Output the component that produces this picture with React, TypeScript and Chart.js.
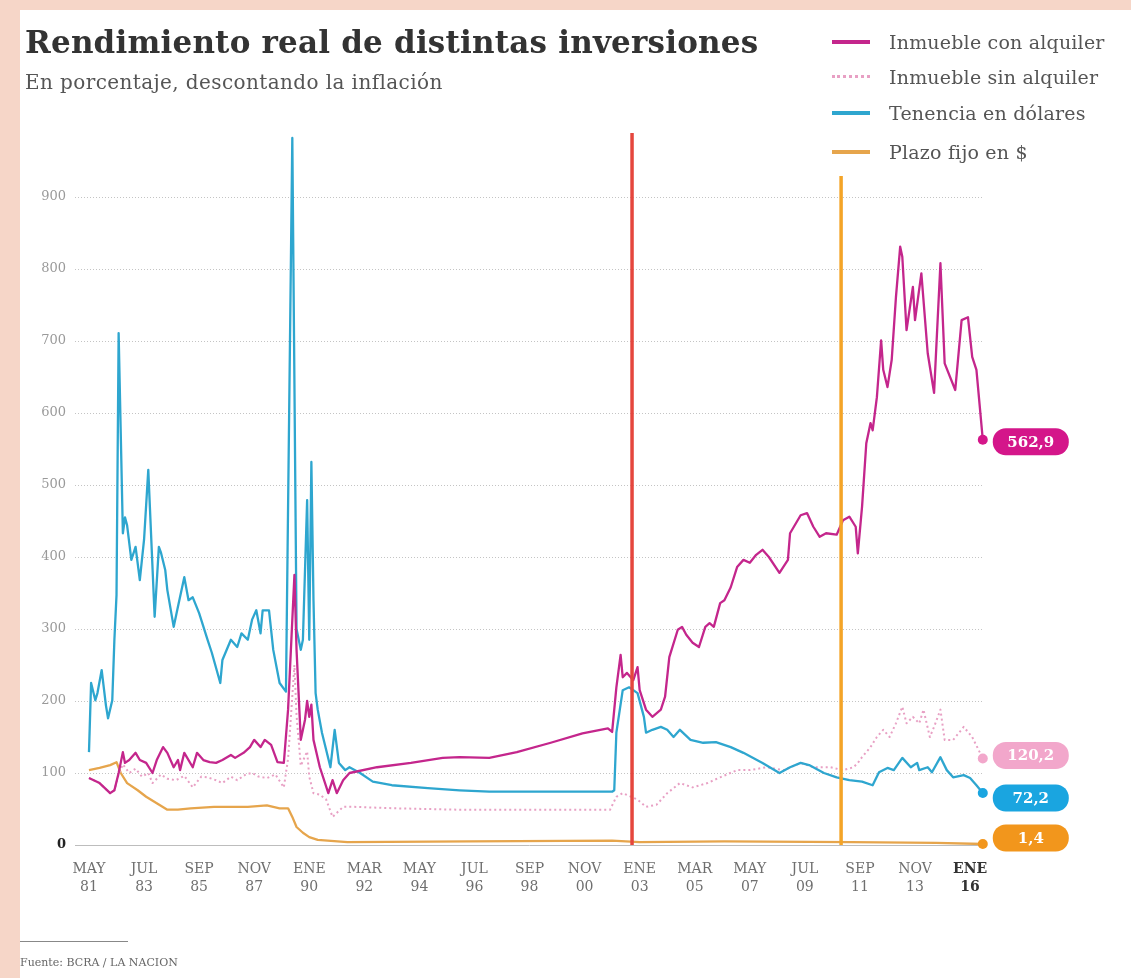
import React, { useEffect, useRef } from 'react';
import { Chart, registerables } from 'chart.js';

Chart.register(...registerables);

// x values are months counted from MAY 1981 (0) ; tick every 26 months
const TICK_MONTHS = [0, 26, 52, 78, 104, 130, 156, 182, 208, 234, 260, 286, 312, 338, 364, 390, 416];
const TICK_MON = ['MAY', 'JUL', 'SEP', 'NOV', 'ENE', 'MAR', 'MAY', 'JUL', 'SEP', 'NOV', 'ENE', 'MAR', 'MAY', 'JUL', 'SEP', 'NOV', 'ENE'];
const TICK_YEAR = ['81', '83', '85', '87', '90', '92', '94', '96', '98', '00', '03', '05', '07', '09', '11', '13', '16'];

const CON_ALQ_MONTHS = [0, 5, 10, 12, 14, 16, 17, 19, 22, 24, 27, 30, 32, 35, 37, 40, 42, 43, 45, 49, 51, 54, 57, 60, 63, 67, 69, 73, 76, 78, 81, 83, 86, 89, 92, 94, 97, 98, 100, 102, 103, 104, 105, 106, 109, 113, 115, 117, 120, 123, 136, 152, 167, 175, 189, 202, 218, 233, 245, 247, 249, 251, 252, 254, 257, 259, 260, 263, 266, 270, 272, 274, 278, 280, 282, 285, 288, 291, 293, 295, 298, 300, 303, 306, 309, 312, 315, 318, 321, 326, 330, 331, 336, 339, 342, 345, 348, 353, 356, 359, 362, 363, 365, 367, 369, 370, 372, 374, 375, 377, 379, 381, 383, 384, 386, 389, 390, 393, 396, 399, 402, 404, 409, 412, 415, 417, 419, 422];
const CON_ALQ_VALUES = [93, 86, 72, 76, 100, 129, 114, 118, 128, 118, 114, 100, 118, 136, 128, 108, 118, 104, 128, 108, 128, 118, 115, 114, 118, 125, 121, 128, 136, 146, 136, 146, 139, 115, 114, 188, 375, 271, 146, 174, 200, 178, 195, 146, 108, 72, 90, 72, 90, 100, 108, 114, 121, 122, 121, 129, 142, 155, 162, 157, 219, 264, 233, 239, 229, 247, 215, 188, 178, 188, 206, 261, 299, 303, 292, 281, 275, 303, 308, 303, 336, 340, 358, 386, 396, 392, 403, 410, 400, 378, 396, 433, 458, 461, 442, 428, 433, 431, 451, 456, 442, 405, 470, 558, 586, 576, 622, 701, 660, 636, 674, 761, 831, 817, 715, 775, 729, 794, 683, 628, 808, 669, 632, 729, 733, 678, 660, 562.9];

const SIN_ALQ_MONTHS = [0, 5, 10, 12, 14, 16, 19, 22, 25, 28, 30, 34, 37, 41, 45, 49, 53, 56, 60, 63, 67, 70, 74, 77, 80, 84, 88, 92, 94, 97, 98, 100, 103, 104, 106, 109, 112, 115, 120, 125, 144, 175, 202, 246, 249, 252, 259, 263, 268, 273, 279, 285, 292, 298, 306, 312, 320, 328, 336, 342, 350, 356, 361, 363, 365, 369, 372, 375, 378, 381, 384, 386, 389, 392, 394, 397, 399, 402, 404, 408, 413, 417, 422];
const SIN_ALQ_VALUES = [93, 86, 72, 76, 98, 112, 100, 106, 95, 100, 86, 98, 92, 90, 96, 80, 95, 94, 90, 86, 95, 90, 98, 100, 95, 93, 98, 80, 120, 250, 180, 110, 130, 95, 72, 70, 63, 39, 53, 53, 51, 49, 49, 49, 67, 72, 63, 53, 56, 72, 86, 80, 86, 94, 104, 104, 108, 104, 114, 108, 108, 104, 108, 114, 122, 136, 150, 160, 150, 169, 192, 169, 178, 169, 188, 150, 164, 188, 146, 146, 164, 150, 120.2];

const DOLAR_MONTHS = [0, 1, 3, 4, 6, 8, 9, 11, 12, 13, 14, 16, 17, 18, 20, 22, 24, 26, 28, 31, 33, 34, 36, 37, 40, 42, 45, 47, 49, 52, 56, 58, 62, 63, 67, 70, 72, 75, 77, 79, 81, 82, 85, 87, 90, 93, 96, 98, 100, 101, 103, 104, 105, 106, 107, 108, 110, 114, 116, 118, 121, 123, 128, 134, 143, 160, 175, 189, 247, 248, 249, 252, 255, 259, 262, 263, 266, 270, 273, 276, 279, 284, 290, 296, 303, 309, 318, 326, 331, 336, 340, 347, 353, 359, 365, 370, 373, 377, 380, 384, 388, 391, 392, 396, 398, 402, 405, 408, 413, 416, 419, 422];
const DOLAR_VALUES = [129, 225, 201, 211, 243, 194, 176, 201, 285, 347, 711, 433, 455, 444, 396, 414, 368, 424, 521, 317, 414, 406, 382, 354, 303, 331, 372, 340, 344, 322, 285, 267, 225, 257, 285, 275, 294, 285, 313, 326, 294, 326, 326, 271, 225, 213, 982, 300, 271, 285, 479, 285, 532, 340, 211, 188, 156, 108, 160, 114, 104, 108, 100, 88, 83, 79, 76, 74, 74, 76, 156, 215, 219, 211, 178, 156, 160, 164, 160, 150, 160, 146, 142, 143, 136, 128, 114, 100, 108, 114, 111, 100, 94, 90, 88, 83, 101, 107, 104, 121, 108, 114, 104, 108, 101, 122, 104, 94, 97, 93, 83, 72.2];

const PLAZO_MONTHS = [0, 5, 10, 13, 15, 18, 23, 27, 32, 37, 42, 48, 59, 75, 84, 90, 94, 96, 98, 101, 104, 108, 122, 180, 247, 260, 300, 360, 400, 422];
const PLAZO_VALUES = [104, 107, 111, 115, 100, 86, 76, 67, 58, 49, 49, 51, 53, 53, 55, 51, 51, 39, 25, 17, 11, 7, 4, 5, 6, 4, 5, 4, 3, 1.4];

// vertical markers (month, top value)
const MARKER_MONTHS = [256.4, 355.1];
const MARKER_TOPS = [989, 929];

const C_MAG = '#c4268c';
const C_PINK = '#e8a0c4';
const C_CYAN = '#2ea6cf';
const C_ORANGE = '#e6a54c';

export default function App() {
  const ref = useRef<HTMLCanvasElement>(null);

  useEffect(() => {
    const pts = (ms: number[], vs: number[]) => ms.map((m, i) => ({ x: m, y: vs[i] }));
    const endLabels = {
      id: 'endLabels',
      afterDatasetsDraw(chart: any) {
        const c = chart.ctx;
        const items = [
          { ds: 2, color: '#d4168a', dy: 2 },
          { ds: 4, color: '#f2a7cb', dy: -3 },
          { ds: 3, color: '#1aa5e0', dy: 5 },
          { ds: 5, color: '#f2961c', dy: -6 },
        ];
        items.forEach(({ ds, color, dy }) => {
          const meta = chart.getDatasetMeta(ds);
          const last = meta.data.length - 1;
          const pt = meta.data[last];
          const val = chart.data.datasets[ds].data[last].y as number;
          const text = val.toFixed(1).replace('.', ',');
          c.save();
          c.fillStyle = color;
          c.beginPath();
          c.arc(pt.x, pt.y, 5, 0, Math.PI * 2);
          c.fill();
          const w = 76, h = 27, x0 = pt.x + 10, yc = pt.y + dy;
          c.beginPath();
          c.roundRect(x0, yc - h / 2, w, h, 13);
          c.fill();
          c.fillStyle = '#fff';
          c.font = 'bold 15px "DejaVu Serif"';
          c.textAlign = 'center';
          c.textBaseline = 'middle';
          c.fillText(text, x0 + w / 2, yc + 1);
          c.restore();
        });
      },
    };

    const lineDs = (data: any[], color: string, extra: any = {}) => ({
      data,
      borderColor: color,
      backgroundColor: color,
      borderWidth: 2.3,
      pointRadius: 0,
      tension: 0,
      clip: false,
      borderJoinStyle: 'round',
      ...extra,
    });

    const chart = new Chart(ref.current!, {
      type: 'line',
      data: {
        datasets: [
          lineDs(pts([MARKER_MONTHS[0], MARKER_MONTHS[0]], [0, MARKER_TOPS[0]]), '#e5463d', { borderWidth: 3.5 }),
          lineDs(pts([MARKER_MONTHS[1], MARKER_MONTHS[1]], [0, MARKER_TOPS[1]]), '#f4a427', { borderWidth: 3.5 }),
          lineDs(pts(CON_ALQ_MONTHS, CON_ALQ_VALUES), C_MAG),
          lineDs(pts(DOLAR_MONTHS, DOLAR_VALUES), C_CYAN),
          lineDs(pts(SIN_ALQ_MONTHS, SIN_ALQ_VALUES), C_PINK, { borderDash: [2, 3], borderWidth: 2 }),
          lineDs(pts(PLAZO_MONTHS, PLAZO_VALUES), C_ORANGE),
        ],
      },
      options: {
        responsive: false,
        animation: false,
        events: [],
        layout: { padding: { left: 15, right: 148, top: 125, bottom: 83 } },
        plugins: { legend: { display: false }, tooltip: { enabled: false } },
        scales: {
          x: {
            type: 'linear',
            min: -6.6,
            max: 422.1,
            afterFit: (axis: any) => { axis.height = 50; },
            afterBuildTicks: (axis: any) => { axis.ticks = TICK_MONTHS.map((v) => ({ value: v })); },
            grid: { display: false, drawTicks: false },
            border: { display: true, color: '#bdbdbd', width: 1 },
            ticks: {
              autoSkip: false,
              maxRotation: 0,
              padding: 15,
              color: (ctx: any) => (ctx.index === TICK_MONTHS.length - 1 ? '#333' : '#6f6f6f'),
              font: (ctx: any) => ({
                family: '"DejaVu Serif"',
                size: 14,
                weight: ctx.index === TICK_MONTHS.length - 1 ? 'bold' : 'normal',
                lineHeight: 1.3,
              }),
              callback: (_v: any, i: number) => [TICK_MON[i], TICK_YEAR[i]],
            },
          },
          y: {
            min: 0,
            max: 1000,
            afterFit: (axis: any) => { axis.width = 60; },
            grid: {
              drawTicks: false,
              color: (ctx: any) => (ctx.tick && ctx.tick.value > 0 && ctx.tick.value < 1000 ? '#c4c4c4' : 'rgba(0,0,0,0)'),
              lineWidth: 1,
            },
            border: { display: false, dash: [1, 2] },
            ticks: {
              stepSize: 100,
              padding: 9,
              color: (ctx: any) => (ctx.tick && ctx.tick.value === 0 ? '#222' : '#9a9a9a'),
              font: (ctx: any) => ({
                family: '"DejaVu Serif"',
                size: 13,
                weight: ctx.tick && ctx.tick.value === 0 ? 'bold' : 'normal',
              }),
              callback: (v: any) => (v === 1000 ? '' : String(v)),
            },
          },
        },
      },
      plugins: [endLabels],
    } as any);
    return () => chart.destroy();
  }, []);

  const legend = [
    { label: 'Inmueble con alquiler', color: C_MAG, style: 'solid', y: 42 },
    { label: 'Inmueble sin alquiler', color: C_PINK, style: 'dotted', y: 77 },
    { label: 'Tenencia en dólares', color: C_CYAN, style: 'solid', y: 113 },
    { label: 'Plazo fijo en $', color: C_ORANGE, style: 'solid', y: 152 },
  ];

  return (
    <div style={{ position: 'absolute', left: 0, top: 0, width: 1131, height: 978, background: '#f6d6c8', overflow: 'hidden' }}>
      <div style={{ position: 'absolute', left: 20, top: 10, right: 0, bottom: 0, background: '#fff' }} />
      <canvas ref={ref} width={1131} height={978} style={{ position: 'absolute', left: 0, top: 0, width: 1131, height: 978 }} />
      <div style={{ position: 'absolute', left: 25, top: 23, fontFamily: '"DejaVu Serif"', fontWeight: 'bold', fontSize: 31, lineHeight: '38px', color: '#333', letterSpacing: 0.2, whiteSpace: 'nowrap' }}>
        Rendimiento real de distintas inversiones
      </div>
      <div style={{ position: 'absolute', left: 25, top: 70, fontFamily: '"DejaVu Serif"', fontSize: 20, lineHeight: '24px', color: '#555', letterSpacing: 0.4, whiteSpace: 'nowrap' }}>
        En porcentaje, descontando la inflación
      </div>
      {legend.map((l) => (
        <div key={l.label}>
          <div style={{ position: 'absolute', left: 832, top: l.y - 2, width: 38, height: 0, borderTop: `${l.style === 'dotted' ? 3 : 4}px ${l.style} ${l.color}` }} />
          <div style={{ position: 'absolute', left: 889, top: l.y - 12, fontFamily: '"DejaVu Serif"', fontSize: 19, lineHeight: '24px', color: '#555', whiteSpace: 'nowrap', letterSpacing: 0.2 }}>
            {l.label}
          </div>
        </div>
      ))}
      <div style={{ position: 'absolute', left: 20, top: 941, width: 108, height: 1, background: '#888' }} />
      <div style={{ position: 'absolute', left: 20, top: 956, fontFamily: '"DejaVu Serif"', fontSize: 11, lineHeight: '14px', color: '#666', whiteSpace: 'nowrap' }}>
        Fuente: BCRA / LA NACION
      </div>
    </div>
  );
}
